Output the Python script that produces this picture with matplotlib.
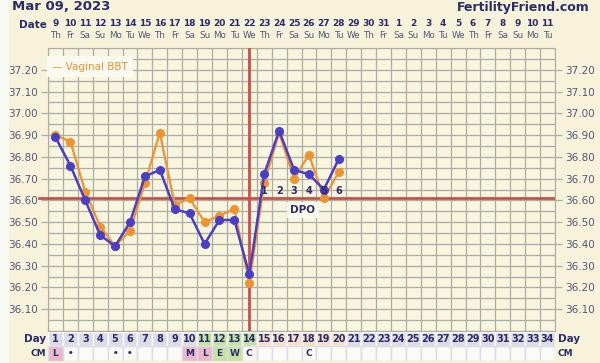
import numpy as np
import matplotlib.pyplot as plt
from matplotlib.patches import Rectangle
from matplotlib.transforms import blended_transform_factory

# chart data
cycle_days = list(range(1, 21))
bbt = [36.89, 36.76, 36.60, 36.44, 36.39, 36.50, 36.71, 36.74, 36.56, 36.54,
       36.40, 36.51, 36.51, 36.26, 36.72, 36.92, 36.74, 36.72, 36.65, 36.79]
vaginal_bbt = [36.90, 36.87, 36.64, 36.48, 36.39, 36.46, 36.68, 36.91, 36.58, 36.61,
               36.50, 36.53, 36.56, 36.22, 36.68, 36.91, 36.70, 36.81, 36.61, 36.73]
coverline = 36.61
ovulation_day = 14
dpo_labels = ['1', '2', '3', '4', '5', '6']
date_labels = [str(d) for d in range(9, 32)] + [str(d) for d in range(1, 12)]
weekday_names = ['Th', 'Fr', 'Sa', 'Su', 'Mo', 'Tu', 'We']
cm_labels = {1: 'L', 2: '•', 5: '•', 6: '•', 10: 'M', 11: 'L', 12: 'E', 13: 'W', 14: 'C', 18: 'C'}
n_days = 34

navy = '#2b2b6b'
label_col = '#55557a'
blue = '#4b3ec6'
orange = '#f0922e'
red = '#c9504c'
gridc = '#aeada3'

W, H = 600, 363
fig = plt.figure(figsize=(W / 100, H / 100), dpi=100)
fig.patch.set_facecolor('#f6f3da')
fig.patches.append(Rectangle((0, 0), 8 / W, 1, transform=fig.transFigure, color='#fafaf5', zorder=-5))

x0, x1 = 48, 555
ytop, ybot = 48, 331
ax = fig.add_axes([x0 / W, (H - ybot) / H, (x1 - x0) / W, (ybot - ytop) / H])
ax.set_facecolor('#f8f6df')
ax.set_xlim(0.5, n_days + 0.5)
ax.set_ylim(36.00, 37.30)

# grid
for xv in np.arange(0.5, n_days + 1, 1):
    ax.axvline(xv, color=gridc, lw=0.9, zorder=1)
for yv in np.arange(36.00, 37.31, 0.05):
    ax.axhline(yv, color=gridc, lw=0.9, zorder=1)
for s in ax.spines.values():
    s.set_color(gridc)

yt = np.round(np.arange(36.10, 37.21, 0.10), 2)
ax.set_yticks(yt)
ax.set_yticklabels([f'{v:.2f}' for v in yt])
ax.tick_params(axis='y', which='both', left=True, right=True, labelleft=True, labelright=True,
               length=5, width=0.9, color=gridc, labelsize=7.5, labelcolor=label_col, pad=2)
ax.set_xticks([])

# coverline and ovulation line
ax.axhline(coverline, color=red, lw=2, zorder=3)
ax.plot([-0.1, 0.5], [coverline, coverline], color=red, lw=2, clip_on=False, zorder=3)
ax.axvline(ovulation_day, color=red, lw=2, zorder=3)

ax.plot(cycle_days, vaginal_bbt, color=orange, lw=1.6, marker='o', ms=5.5, zorder=4)
ax.plot(cycle_days, bbt, color=blue, lw=1.8, marker='o', ms=5.5, zorder=5)

for i, lab in enumerate(dpo_labels):
    ax.text(ovulation_day + 1 + i, 36.645, lab, ha='center', va='center', fontsize=7,
            fontweight='bold', color=navy, zorder=6)
ax.text(17.6, 36.555, 'DPO', ha='center', va='center', fontsize=7.5, fontweight='bold', color=navy,
        zorder=6, bbox=dict(boxstyle='square,pad=0.3', fc='#fbfaf0', ec='none'))

# legend
ax.text(0.75, 37.215, '\u2014 Vaginal BBT', color=orange, fontsize=7.5, va='center', zorder=7,
        bbox=dict(boxstyle='square,pad=0.5', fc='#fbfaf0', ec='none'))

# date rows
tr = blended_transform_factory(ax.transData, ax.transAxes)
for i in range(n_days):
    ax.text(i + 1, (ybot - 23) / (ybot - ytop), date_labels[i], transform=tr, ha='center', va='center',
            fontsize=6.5, fontweight='bold', color=navy)
    ax.text(i + 1, (ybot - 36) / (ybot - ytop), weekday_names[i % 7], transform=tr, ha='center',
            va='center', fontsize=6.3, color=label_col)
ax.text(0.4, (ybot - 25) / (ybot - ytop), 'Date', transform=tr, ha='right', va='center', fontsize=7.5,
        fontweight='bold', color=navy)

# bottom day / CM rows
bx = fig.add_axes([x0 / W, (H - 361) / H, (x1 - x0) / W, 29 / H])
bx.set_xlim(0.5, n_days + 0.5)
bx.set_ylim(0, 29)
bx.axis('off')
for d in range(1, n_days + 1):
    if 11 <= d <= 14:
        dc = '#c3e3a2'
    elif 15 <= d <= 20:
        dc = '#f7dfcb'
    else:
        dc = '#dcdbe6'
    bx.add_patch(Rectangle((d - 0.5, 15), 1, 14, fc=dc, ec='white', lw=1))
    lab = cm_labels.get(d, '')
    if lab in ('L', 'M'):
        cc = '#eab8cc'
    elif lab in ('E', 'W'):
        cc = '#c3e3a2'
    else:
        cc = '#fafaf6'
    bx.add_patch(Rectangle((d - 0.5, 0), 1, 15, fc=cc, ec='#dcdbe6', lw=1))
    bx.text(d, 22, str(d), ha='center', va='center', fontsize=7, fontweight='bold', color=navy)
    if lab:
        bx.text(d, 7.5, lab, ha='center', va='center', fontsize=6.5, fontweight='bold', color=navy)
bx.text(0.35, 22, 'Day', ha='right', va='center', fontsize=7.5, fontweight='bold', color=navy)
bx.text(0.35, 7.5, 'CM', ha='right', va='center', fontsize=6.5, fontweight='bold', color=navy)
bx.text(34.7, 22, 'Day', ha='left', va='center', fontsize=7.5, fontweight='bold', color=navy)
bx.text(34.7, 7.5, 'CM', ha='left', va='center', fontsize=6.5, fontweight='bold', color=navy)

fig.text(12 / W, 1 - 7 / H, 'Mar 09, 2023', ha='left', va='center', fontsize=9.5, fontweight='bold',
         color=navy)
fig.text(590 / W, 1 - 7 / H, 'FertilityFriend.com', ha='right', va='center', fontsize=9,
         fontweight='bold', color=navy)

fig.savefig('out.png', dpi=100, facecolor=fig.get_facecolor())
